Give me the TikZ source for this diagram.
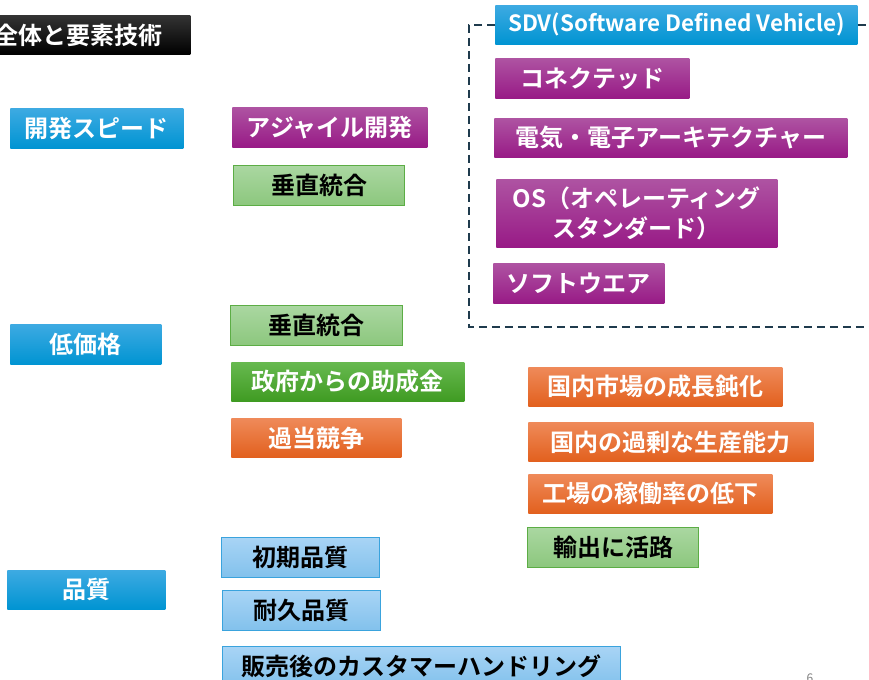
\documentclass[tikz,border=0pt]{standalone}
\usepackage{fontspec}
\setmainfont{Noto Sans CJK JP}[BoldFont={Noto Sans CJK JP Bold}]
\usetikzlibrary{positioning}
\definecolor{bluetop}{HTML}{3DAAE2}
\definecolor{bluebot}{HTML}{0094D2}
\definecolor{purptop}{HTML}{AE53A2}
\definecolor{purpbot}{HTML}{981A86}
\definecolor{orantop}{HTML}{EF8A59}
\definecolor{oranbot}{HTML}{E2601E}
\definecolor{dgrntop}{HTML}{67B94F}
\definecolor{dgrnbot}{HTML}{3F9B22}
\definecolor{lgrntop}{HTML}{AAD7A1}
\definecolor{lgrnbot}{HTML}{8CC77D}
\definecolor{lgrnline}{HTML}{5CAD45}
\definecolor{lbluetop}{HTML}{A8D4F5}
\definecolor{lbluebot}{HTML}{82C1EC}
\definecolor{lblueline}{HTML}{3AA3DD}
\definecolor{frameline}{HTML}{1F3B4D}
\tikzset{
  box/.style={anchor=north west, inner sep=0pt, align=center, font=\bfseries\fontsize{12}{15}\selectfont},
  titlebox/.style={box, top color=black!80, bottom color=black, text=white},
  bluebox/.style={box, top color=bluetop, bottom color=bluebot, text=white},
  purplebox/.style={box, top color=purptop, bottom color=purpbot, text=white},
  orangebox/.style={box, top color=orantop, bottom color=oranbot, text=white},
  greenbox/.style={box, top color=dgrntop, bottom color=dgrnbot, text=white},
  lgreenbox/.style={box, top color=lgrntop, bottom color=lgrnbot, draw=lgrnline, line width=0.6pt, text=black},
  lbluebox/.style={box, top color=lbluetop, bottom color=lbluebot, draw=lblueline, line width=0.6pt, text=black},
  frame/.style={draw=frameline, line width=1pt, dash pattern=on 4pt off 2.5pt}
}
\begin{document}
\begin{tikzpicture}[x=0.5pt,y=-0.5pt]
\useasboundingbox[fill=white] (0,0) rectangle (869,680);
\node[titlebox, inner xsep=2pt, text width=96pt, align=left, minimum height=19.5pt] (title) at (-10,15) {全体と要素技術};
\node[bluebox, minimum width=181pt, minimum height=19.5pt, font=\bfseries\fontsize{11.2}{13}\selectfont] (sdv) at (495,5) {SDV(Software Defined Vehicle)};
\node[purplebox, minimum width=97pt, minimum height=20pt] (conn) at (495,58) {コネクテッド};
\node[purplebox, minimum width=176.5pt, minimum height=19.5pt] (ee) at (494,118) {電気・電子アーキテクチャー};
\node[purplebox, minimum width=140.5pt, minimum height=34pt] (os) at (496,179) {OS（オペレーティング\\スタンダード）};
\node[purplebox, minimum width=85.5pt, minimum height=20pt] (sw) at (493,263) {ソフトウエア};
\node[bluebox, minimum width=86.5pt, minimum height=20pt] (speed) at (10,108) {開発スピード};
\node[purplebox, minimum width=97.5pt, minimum height=20pt] (agile) at (232,107) {アジャイル開発};
\node[lgreenbox, minimum width=85.5pt, minimum height=20pt] (vert1) at (233,165) {垂直統合};
\node[bluebox, minimum width=75.5pt, minimum height=20pt] (price) at (10,324) {低価格};
\node[lgreenbox, minimum width=86pt, minimum height=20pt] (vert2) at (230,305) {垂直統合};
\node[greenbox, minimum width=116.5pt, minimum height=19.5pt] (subsidy) at (231,362) {政府からの助成金};
\node[orangebox, minimum width=85pt, minimum height=19.5pt] (compet) at (231,418) {過当競争};
\node[orangebox, minimum width=127pt, minimum height=19.5pt] (market) at (528,367) {国内市場の成長鈍化};
\node[orangebox, minimum width=142.5pt, minimum height=19.5pt] (overcap) at (528,422) {国内の過剰な生産能力};
\node[orangebox, minimum width=122pt, minimum height=19.5pt] (factory) at (528,474) {工場の稼働率の低下};
\node[lgreenbox, minimum width=85.5pt, minimum height=20pt] (export) at (527,527) {輸出に活路};
\node[bluebox, minimum width=79pt, minimum height=19.5pt] (quality) at (7,570) {品質};
\node[lbluebox, minimum width=79pt, minimum height=20pt] (initq) at (221,537) {初期品質};
\node[lbluebox, minimum width=79pt, minimum height=20pt] (durq) at (222,590) {耐久品質};
\node[lbluebox, minimum width=199pt, minimum height=20pt] (after) at (222,646) {販売後のカスタマーハンドリング};
\node[anchor=north, text=gray, font=\fontsize{6}{7}\selectfont] (pg) at (810,667) {6};
\coordinate[left=13pt of sdv.west] (dtl);
\coordinate[right=6pt of sdv.east] (dtr);
\coordinate (dbr) at (869,327);
\draw[frame] (sdv.west) -- (dtl) |- (dbr);
\draw[frame] (sdv.east) -- (dtr);
\end{tikzpicture}
\end{document}
